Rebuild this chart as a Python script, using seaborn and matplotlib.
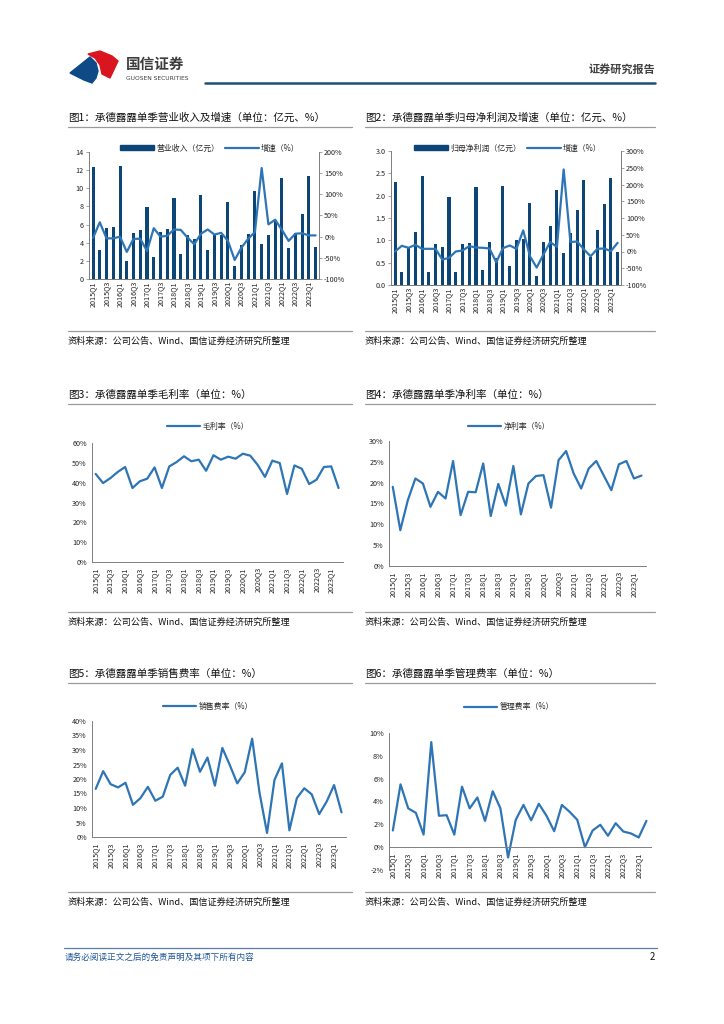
import numpy as np
import pandas as pd
import matplotlib
matplotlib.use('Agg')
import matplotlib.pyplot as plt
from matplotlib.patches import Polygon, Patch
from matplotlib.lines import Line2D
from matplotlib.ticker import FuncFormatter, MultipleLocator
import seaborn as sns

# ---- data ----
quarters = [f'{y}Q{q}' for y in range(2015, 2024) for q in range(1, 5)][:34]

revenue = [12.4, 3.2, 5.6, 5.7, 12.5, 2.0, 5.1, 5.4, 7.9, 2.4, 5.2, 5.5,
           8.9, 2.8, 4.9, 4.4, 9.3, 3.2, 5.0, 4.8, 8.5, 1.4, 3.8, 5.0,
           9.7, 3.9, 4.9, 6.5, 11.1, 3.4, 5.1, 7.2, 11.4, 3.5]
revenue_yoy = [-3, 34, -4, -4, 0, -36, -5, -5, -34, 20, 0, 2,
               17, 16, -2, -18, 7, 17, 5, 9, -10, -55, -26, -5,
               11, 162, 29, 40, 16, -10, 7, 8, 3, 3]

profit = [2.30, 0.28, 0.85, 1.19, 2.43, 0.30, 0.92, 0.86, 1.97, 0.30, 0.92, 0.94,
          2.19, 0.33, 0.97, 0.60, 2.22, 0.42, 1.01, 1.02, 1.83, 0.20, 0.97, 1.33,
          2.13, 0.72, 1.16, 1.68, 2.35, 0.63, 1.24, 1.81, 2.40, 0.75]
profit_yoy = [0, 17, 11, 20, 8, 8, 8, -24, -19, 0, 3, 16,
              12, 11, 9, -32, 10, 18, 8, 63, -14, -48, -9, 28,
              14, 245, 28, 30, 6, -14, 8, 9, 1, 26]

gross_margin = [44.4, 39.8, 42.3, 45.4, 47.9, 37.3, 40.7, 42.0, 47.7, 37.3, 48.2, 50.4,
                53.3, 50.8, 51.6, 46.0, 53.8, 51.6, 53.1, 52.1, 54.6, 53.6, 49.0, 42.9,
                51.1, 49.9, 34.3, 48.7, 47.0, 39.3, 41.5, 47.9, 48.2, 37.3]
net_margin = [19.0, 8.6, 15.8, 21.0, 19.8, 14.2, 17.8, 16.2, 25.2, 12.2, 17.8, 17.7,
              24.6, 12.0, 19.7, 14.5, 24.0, 12.4, 19.8, 21.6, 21.8, 14.0, 25.4, 27.6,
              22.2, 18.6, 23.4, 25.2, 21.7, 18.2, 24.4, 25.2, 21.0, 21.7]
sell_rate = [16.6, 22.7, 18.2, 17.1, 18.7, 11.1, 13.4, 17.3, 12.5, 13.9, 21.4, 23.9,
             17.7, 30.3, 22.5, 27.4, 17.7, 30.7, 24.8, 18.5, 22.3, 33.9, 15.1, 1.4,
             19.7, 25.4, 2.3, 13.4, 16.8, 14.7, 7.9, 12.2, 17.9, 8.5]
admin_rate = [1.46, 5.5, 3.4, 3.0, 1.1, 9.2, 2.75, 2.8, 1.1, 5.3, 3.4, 4.35,
              2.3, 4.9, 3.4, -0.9, 2.4, 3.7, 2.35, 3.8, 2.75, 1.4, 3.7, 3.1,
              2.4, 0.0, 1.46, 1.96, 1.0, 2.1, 1.37, 1.2, 0.85, 2.3]

bar_color = '#0c4677'
line_color = '#2e75b6'
axis_color = '#7f7f7f'

sns.set_style('white')
plt.rcParams['font.family'] = ['Noto Sans CJK SC', 'DejaVu Sans']
plt.rcParams['axes.unicode_minus'] = False

W, H = 724, 1024
fig = plt.figure(figsize=(W / 100, H / 100), dpi=100)


def px_axes(x0, y0, x1, y1):
    return fig.add_axes([x0 / W, 1 - y1 / H, (x1 - x0) / W, (y1 - y0) / H])


def fx(x):
    return x / W


def fy(y):
    return 1 - y / H


def pct(v, pos):
    return f'{v:.0f}%'


def style_axis(ax, right=False):
    sns.despine(ax=ax, top=True, right=not right)
    for s in ['left', 'bottom', 'right']:
        ax.spines[s].set_color(axis_color)
        ax.spines[s].set_linewidth(0.7)
    ax.tick_params(axis='both', labelsize=5.2, length=2.2, width=0.5,
                   color=axis_color, pad=1.5, labelcolor='#222222')


def set_quarter_ticks(ax):
    ax.set_xticks(range(0, 34, 2))
    ax.set_xticklabels(quarters[::2], rotation=90)
    ax.set_xticks(np.arange(34), minor=True)
    ax.tick_params(axis='x', which='minor', length=2.2, width=0.5, color=axis_color)
    ax.set_xlim(-0.6, 33.5)
    ax.set_xlabel('')
    ax.set_ylabel('')


def bar_chart(rect, bars, growth, lim_l, step_l, fmt_l, lim_r, step_r, labels, leg_xy):
    ax = px_axes(*rect)
    df = pd.DataFrame({'q': quarters, 'v': bars})
    sns.barplot(data=df, x='q', y='v', ax=ax, color=bar_color, width=0.45,
                saturation=1, errorbar=None, linewidth=0, edgecolor='none')
    ax.set_ylim(*lim_l)
    ax.yaxis.set_major_locator(MultipleLocator(step_l))
    ax.yaxis.set_major_formatter(FuncFormatter(fmt_l))
    style_axis(ax, right=True)
    set_quarter_ticks(ax)
    ax.tick_params(axis='x', which='both', direction='in')
    ax2 = ax.twinx()
    sns.lineplot(x=np.arange(34), y=growth, ax=ax2, color=line_color, lw=1.6)
    ax2.set_ylim(*lim_r)
    ax2.yaxis.set_major_locator(MultipleLocator(step_r))
    ax2.yaxis.set_major_formatter(FuncFormatter(pct))
    style_axis(ax2, right=True)
    ax2.spines['left'].set_visible(False)
    ax2.set_ylabel('')
    ax.set_xlim(-0.6, 33.5)
    handles = [Patch(color=bar_color), Line2D([], [], color=line_color, lw=1.6)]
    fig.legend(handles, labels, loc='center', bbox_to_anchor=(fx(leg_xy[0]), fy(leg_xy[1])),
               ncol=2, frameon=False, fontsize=5.7, handlelength=4.2, handleheight=0.6,
               handletextpad=0.3, columnspacing=0.8)
    return ax


def line_chart(rect, vals, lim, step, label, leg_xy, zero_axis=False):
    ax = px_axes(*rect)
    sns.lineplot(x=np.arange(34), y=vals, ax=ax, color=line_color, lw=1.6)
    ax.set_ylim(*lim)
    if zero_axis:
        # x axis line crosses at 0, as in the reference
        ax.spines['bottom'].set_position(('data', 0))
    ax.yaxis.set_major_locator(MultipleLocator(step))
    ax.yaxis.set_major_formatter(FuncFormatter(pct))
    style_axis(ax)
    set_quarter_ticks(ax)
    ax.set_xlim(-0.5, 33.6)
    handles = [Line2D([], [], color=line_color, lw=1.6)]
    fig.legend(handles, [label], loc='center', bbox_to_anchor=(fx(leg_xy[0]), fy(leg_xy[1])),
               frameon=False, fontsize=5.7, handlelength=4.2, handletextpad=0.3)
    return ax


# ---- header ----
logo_blue = Polygon([[fx(70), fy(73)], [fx(90), fy(57)], [fx(96), fy(63)], [fx(98), fy(71)],
                     [fx(96), fy(78)], [fx(92), fy(83)], [fx(84), fy(80)]],
                    closed=True, transform=fig.transFigure, color='#0d4a86')
logo_red = Polygon([[fx(88), fy(54)], [fx(100), fy(51)], [fx(112), fy(56)], [fx(118), fy(61)],
                    [fx(110), fy(78)], [fx(102), fy(74)], [fx(100), fy(65)], [fx(95), fy(58)]],
                   closed=True, transform=fig.transFigure, color='#d9161f')
fig.patches.extend([logo_blue, logo_red])
fig.text(fx(126), fy(64), '国信证券', fontsize=10.5, fontweight='bold', color='#3c3c3c', va='center')
fig.text(fx(126), fy(78), 'GUOSEN SECURITIES', fontsize=4.3, color='#3c3c3c', va='center',
         family=['DejaVu Sans'])
fig.text(fx(655), fy(69), '证券研究报告', fontsize=8, fontweight='bold', color='#404040',
         ha='right', va='center')
fig.add_artist(Line2D([fx(205), fx(655)], [fy(83), fy(83)], color='#1f4e79', lw=1.8))

# ---- titles, rules and sources ----
titles = [
    (68, 118, '图1：承德露露单季营业收入及增速（单位：亿元、%）'),
    (365, 118, '图2：承德露露单季归母净利润及增速（单位：亿元、%）'),
    (68, 395, '图3：承德露露单季毛利率（单位：%）'),
    (365, 395, '图4：承德露露单季净利率（单位：%）'),
    (68, 674, '图5：承德露露单季销售费率（单位：%）'),
    (365, 674, '图6：承德露露单季管理费率（单位：%）'),
]
for x, y, t in titles:
    fig.text(fx(x), fy(y), t, fontsize=7.6, color='#111111', va='center')
    x1 = 352 if x < 300 else 655
    fig.add_artist(Line2D([fx(x), fx(x1)], [fy(y + 9), fy(y + 9)], color='#9a9a9a', lw=0.9))

source = '资料来源：公司公告、Wind、国信证券经济研究所整理'
for ys in [331, 612, 892]:
    for x0, x1 in [(68, 352), (365, 655)]:
        fig.add_artist(Line2D([fx(x0), fx(x1)], [fy(ys), fy(ys)], color='#9a9a9a', lw=0.9))
        fig.text(fx(x0), fy(ys + 10), source, fontsize=6.6, color='#111111', va='center')

# ---- charts ----
bar_chart((89, 152, 319, 279), revenue, revenue_yoy, (0, 14), 2, lambda v, p: f'{v:.0f}',
          (-100, 200), 50, ['营业收入（亿元）', '增速（%）'], (210, 148))
bar_chart((391, 151, 621, 285), profit, profit_yoy, (0, 3.0), 0.5, lambda v, p: f'{v:.1f}',
          (-100, 300), 50, ['归母净利润（亿元）', '增速（%）'], (508, 148))

line_chart((92, 443, 343, 562), gross_margin, (0, 60), 10, '毛利率（%）', (208, 426))
line_chart((389, 441, 646, 566), net_margin, (0, 30), 5, '净利率（%）', (509, 426))
line_chart((92, 721, 346, 837), sell_rate, (0, 40), 5, '销售费率（%）', (208, 706))
line_chart((389, 733, 651, 870), admin_rate, (-2, 10), 2, '管理费率（%）', (509, 707), zero_axis=True)

# ---- footer ----
fig.add_artist(Line2D([fx(64), fx(657)], [fy(948), fy(948)], color='#5a7fa8', lw=0.9))
fig.text(fx(65), fy(957), '请务必阅读正文之后的免责声明及其项下所有内容', fontsize=6.2,
         color='#1f5597', va='center', style='italic')
fig.text(fx(655), fy(957), '2', fontsize=7, color='#111111', va='center', ha='right')

fig.savefig('out.png', dpi=100)
